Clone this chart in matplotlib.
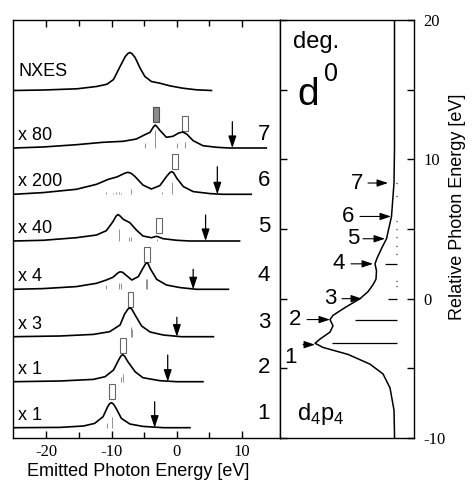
import matplotlib.pyplot as plt
from matplotlib.patches import Rectangle

plt.rcParams['font.family'] = ['Liberation Sans', 'DejaVu Sans']
plt.rcParams['axes.unicode_minus'] = False
plt.rcParams['mathtext.fontset'] = 'custom'
plt.rcParams['mathtext.rm'] = 'Liberation Sans'

# ---- left panel: emitted photon energy [eV] vs. height above each baseline
e_nxes = [-25, -20.4, -15.3, -12.3, -10.7, -9.7, -8.7, -7.9, -7.5, -7.2, -6.9, -6.4, -5.6, -4.9, -3.9, -2.6, -1.1, 0.9, 3.0, 5.3]
h_nxes = [0, 0.5, 1.7, 4, 6.3, 11, 24, 34, 37, 38, 37, 33, 22, 14, 9, 7.3, 4.7, 2.3, 0.7, 0]

e1 = [-25, -17.9, -14.3, -12.6, -11.3, -10.6, -10.3, -10.0, -9.7, -9.3, -8.5, -7.2, -5.2, -2.0, 2.0]
h1 = [0, 0.3, 1.7, 4.3, 11, 21, 24, 25, 23.5, 19.3, 9.3, 3.7, 1.3, 0, 0]

e2 = [-25, -17.9, -12.8, -11.0, -9.7, -9.0, -8.6, -8.3, -8.0, -7.5, -6.4, -5.2, -2.6, 0, 4.0]
h2 = [0, 0.7, 2.3, 5, 11.7, 20.7, 25.5, 27, 25.5, 20, 10, 4, 1, 0, 0]

e3 = [-25, -17.9, -12.8, -10.3, -8.7, -8.0, -7.5, -7.2, -6.9, -6.4, -5.4, -4.1, -2.1, 0.7, 5.6]
h3 = [0, 0.7, 2.3, 5, 11.7, 22.7, 27.5, 29, 27.5, 21.7, 10.7, 4.7, 1.7, 0, 0]

e4 = [-25, -20.5, -15.4, -12.3, -10.8, -9.8, -9.0, -8.7, -8.3, -8.0, -6.9, -5.9, -5.2, -4.8, -4.6, -4.4, -4.1, -3.1, -1.6, 0.5, 3.0, 7.9]
h4 = [0, 0.7, 2.7, 6, 9.3, 12, 16.5, 17.5, 17, 15.3, 9.3, 12.7, 21, 25.5, 26.5, 25.5, 21, 10, 4.3, 1.7, 0, 0]

e5 = [-25, -20.5, -15.4, -12.3, -10.8, -9.8, -9.3, -9.0, -8.7, -8.2, -7.2, -6.2, -5.2, -3.9, -3.1, -2.1, 0, 2.0, 9.6]
h5 = [0, 0.7, 3.3, 6, 10.3, 19.3, 25, 26.5, 25, 21.7, 18.3, 11, 5, 3.3, 4.7, 2.3, 0.7, 0, 0]

e6 = [-25, -20.5, -15.4, -12.3, -10.5, -9.2, -8.0, -7.5, -7.0, -6.4, -5.2, -3.9, -2.6, -1.6, -1.1, -0.8, -0.5, 0, 1.0, 2.5, 5.1, 7.0, 11.4]
h6 = [0, 1.7, 5, 10, 15, 17.3, 21, 22, 21, 17.7, 9.3, 5.3, 8.7, 17.7, 21.5, 22.7, 21.5, 16, 7.7, 2.7, 0.7, 0, 0]

e7 = [-25, -20.5, -15.4, -11.3, -8.2, -6.2, -4.9, -4.1, -3.6, -3.3, -3.0, -2.6, -1.6, -0.6, 0.3, 0.9, 1.5, 2.5, 4.0, 6.1, 8.0, 13.7]
h7 = [0, 1, 3.3, 5.7, 6.7, 9, 13.3, 15.7, 21, 23, 21, 17.7, 10.7, 11.7, 15, 16, 14, 7.3, 2.3, 0.7, 0, 0]

# stick spectra under each curve: (energy, height)
sticks1 = [(-10.7, 5), (-10.0, 11)]
sticks2 = [(-8.5, 5), (-8.2, 8)]
sticks3 = [(-7.1, 10), (-6.9, 8)]
sticks4 = [(-10.8, 4), (-8.8, 6), (-8.6, 6), (-4.8, 10), (-4.5, 10)]
sticks5 = [(-8.9, 12), (-7.4, 4), (-7.1, 4), (-3.1, 2)]
sticks6 = [(-10.8, 2), (-9.8, 1.5), (-9.3, 2), (-8.9, 2), (-8.5, 1.5), (-7.1, 5), (-2.3, 2), (-0.8, 12)]
sticks7 = [(-4.9, 5), (-3.3, 18), (0.0, 5), (1.2, 6)]

scale_labels = ['x 1', 'x 1', 'x 3', 'x 4', 'x 40', 'x 200', 'x 80']
excitation = [-3.4, -1.4, 0.0, 2.5, 4.4, 6.2, 8.5]
marker_e = [-10.0, -8.3, -7.1, -4.6, -2.75, -0.3, 1.3]
marker_lvl = [28.7, 28.7, 30, 27.6, 7.7, 25.3, 17]
filled_e, filled_lvl = -3.2, 26

# ---- right panel: absorption curve, relative photon energy [eV] vs intensity
r_e = [20, 14, 10.8, 8.3, 5.9, 4.3, 3.6, 2.9, 2.5, 2.0, 1.4, 1.0, 0.5, 0, -0.64, -1.2, -1.5,
       -1.95, -2.4, -2.9, -3.2, -3.5, -4.0, -4.7, -5.4, -6.4, -8.0, -9.7, -10]
r_i = [2.5, 2.5, 2.5, 3, 5.5, 10.5, 15.5, 20, 22, 20.5, 21, 24, 29, 37, 52, 64, 67,
       64, 67, 77, 82, 74, 49, 27, 14, 7, 3, 2.5, 2.5]
r_stick_e = [-3.2, -1.5, 0.0, 0.9, 1.3, 2.5, 3.2, 3.8, 4.4, 5.0, 5.6, 7.4, 8.3]
r_stick_i = [65, 42, 9, 1.5, 1.5, 12, 1.5, 1.5, 1.5, 1.5, 1.5, 1.5, 1.5]
r_arrow_e = [-3.3, -1.5, 0.0, 2.5, 4.3, 5.9, 8.3]
r_tip = [82, 67, 35, 24, 12, 6, 9]
r_tail = [94, 90, 55, 46, 34, 37, 29]
r_label_i = [107, 102, 67, 58, 44, 49, 40]
r_label_e = [-4.2, -1.5, 0.0, 2.5, 4.3, 5.9, 8.3]

W, H = 472, 487


def box(x0, y0, x1, y1):
    return [x0 / W, 1 - y1 / H, (x1 - x0) / W, (y1 - y0) / H]


fig = plt.figure(figsize=(4.72, 4.87), dpi=100)
ax = fig.add_axes(box(13, 20, 280, 438))
axr = fig.add_axes(box(280, 20, 414, 438))

# left panel
ax.set_xlim(-25.1, 15.8)
ax.set_ylim(0, 418)
base = [10.3, 56.3, 101.3, 148.7, 197, 243.7, 290]
base_nxes = 347.5

ax.plot(e_nxes, [base_nxes + v for v in h_nxes], color='black', lw=1.2)
ax.text(-24.3, base_nxes + 10, 'NXES', fontsize=13, va='bottom')

curves = [(e1, h1), (e2, h2), (e3, h3), (e4, h4), (e5, h5), (e6, h6), (e7, h7)]
sticks = [sticks1, sticks2, sticks3, sticks4, sticks5, sticks6, sticks7]
arrow_len = [26, 26.7, 19.4, 20, 26, 27.6, 26.3]
for i, (e, h) in enumerate(curves):
    b = base[i]
    for se, sh in sticks[i]:
        ax.vlines(se, b, b + sh, color='0.5', lw=0.6)
    ax.plot(e, [b + v for v in h], color='black', lw=1.2)
    ax.text(-24.3, b + 4, scale_labels[i], fontsize=13, va='bottom')
    ax.text(14.3, b + 14, str(i + 1), fontsize=16, ha='right', va='center')
    ax.annotate('', xy=(excitation[i], b), xytext=(excitation[i], b + arrow_len[i]),
                arrowprops=dict(arrowstyle='-|>,head_length=0.6,head_width=0.2',
                                color='black', lw=0.9, shrinkA=0, shrinkB=0,
                                mutation_scale=12))
    ax.add_patch(Rectangle((marker_e[i] - 0.45, b + marker_lvl[i]), 0.9, 15,
                           fill=False, ec='0.4', lw=0.8))
ax.add_patch(Rectangle((filled_e - 0.45, base[6] + filled_lvl), 0.9, 15,
                       fc='0.55', ec='0.3', lw=0.8))

ax.set_yticks([])
ax.set_xticks([-20, -10, 0, 10])
ax.set_xticks([-15, -5, 5], minor=True)
ax.tick_params(axis='x', which='both', direction='in', top=True, width=1,
               labelsize=12, labelfontfamily='Liberation Serif', pad=4)
ax.tick_params(axis='x', which='major', length=5)
ax.tick_params(axis='x', which='minor', length=4)

# right panel
axr.set_ylim(-10, 20)
axr.set_xlim(117, -17)
axr.hlines(r_stick_e, 0, r_stick_i, color='black', lw=0.9)
axr.plot(r_i, r_e, color='black', lw=1.1)
for k in range(7):
    axr.annotate('', xy=(r_tip[k], r_arrow_e[k]), xytext=(r_tail[k], r_arrow_e[k]),
                 arrowprops=dict(arrowstyle='-|>,head_length=0.6,head_width=0.2',
                                 color='black', lw=0.8, shrinkA=0, shrinkB=0,
                                 mutation_scale=11))
    axr.text(r_label_i[k], r_label_e[k], str(k + 1), fontsize=16, ha='center', va='center')

axr.text(81, 18.4, 'deg.', fontsize=17, ha='center', va='center')
axr.text(100, 13.9, 'd', fontsize=28, ha='left', va='baseline')
axr.text(73, 15.6, '0', fontsize=18, ha='left', va='baseline')
axr.text(100, -8.7, 'd$_4$p$_4$', fontsize=17, ha='left', va='baseline')

axr.set_xticks([])
axr.set_yticks([-10, 0, 10, 20])
axr.set_yticks([-5, 5, 15], minor=True)
axr.tick_params(axis='y', which='both', direction='in', left=True, right=True,
                labelleft=False, labelright=True, length=5, width=1,
                labelsize=12, labelfontfamily='Liberation Serif', pad=7)

for a in (ax, axr):
    for s in a.spines.values():
        s.set_linewidth(1.0)

fig.text(138 / W, 1 - 472 / H, 'Emitted Photon Energy [eV]', fontsize=13,
         ha='center', va='center')
fig.text(457 / W, 1 - 207 / H, 'Relative Photon Energy [eV]', fontsize=13,
         rotation=90, ha='center', va='center')

fig.savefig('out.png', dpi=100)
